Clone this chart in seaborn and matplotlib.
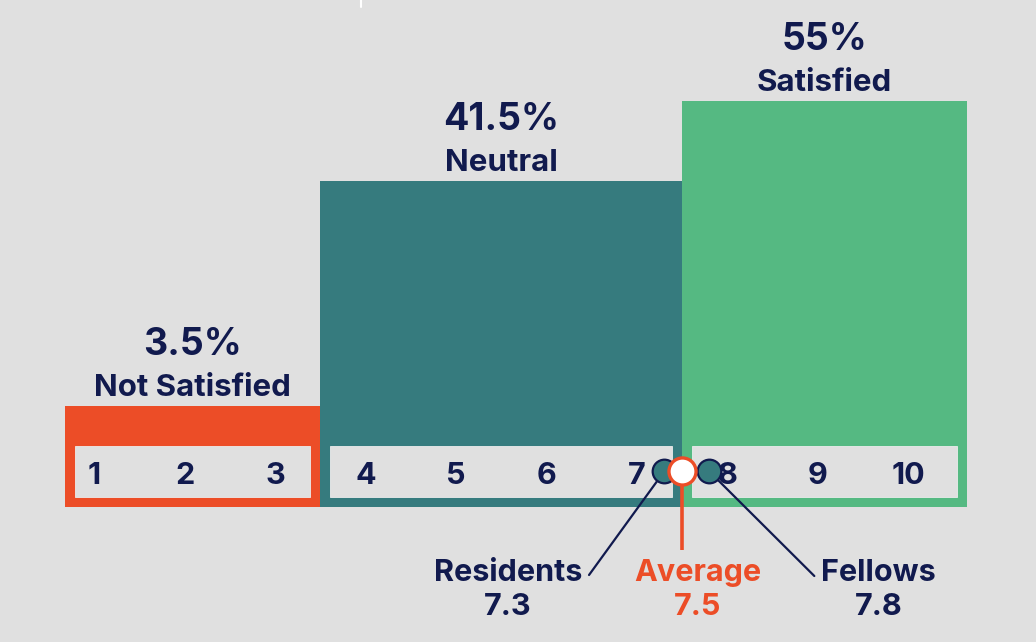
import matplotlib
matplotlib.use("Agg")
import matplotlib.pyplot as plt
import seaborn as sns
import pandas as pd

# ---------------- data ----------------
categories = ["Not Satisfied", "Neutral", "Satisfied"]
percent = [3.5, 41.5, 55.0]
pct_labels = ["3.5%", "41.5%", "55%"]
band_edges = [0.68, 3.5, 7.5, 10.65]        # score-scale edges of the three bands
scores = [1, 2, 3, 4, 5, 6, 7, 8, 9, 10]
groups = ["Residents", "Average", "Fellows"]
group_scores = [7.3, 7.5, 7.8]

# ---------------- style ----------------
BG = "#e0e0e0"
ORANGE = "#ec4d27"
TEAL = "#367b7e"
GREEN = "#55b982"
NAVY = "#111a4e"
band_colors = [ORANGE, TEAL, GREEN]

sns.set_theme(style="white")
plt.rcParams["font.family"] = ["Inter", "DejaVu Sans"]

fig = plt.figure(figsize=(10.36, 6.42), dpi=100)
fig.patch.set_facecolor(BG)
ax = fig.add_axes([0, 0, 1, 1])
ax.set_facecolor(BG)

BASE = 13.5            # depth of the score strip below the 0 line
px_x = 1 / 90.5        # one pixel in x data units
px_y = 1 / 5.93        # one pixel in y data units

# bands
for i, cat in enumerate(categories):
    left = band_edges[i]
    width = band_edges[i + 1] - band_edges[i]
    ax.bar(left, percent[i] + BASE, width=width, bottom=-BASE, align="edge",
           color=band_colors[i], linewidth=0, zorder=1)
    # inner score strip
    inset_x = 10 * px_x
    ax.bar(left + inset_x, 51 * px_y, width=width - 2 * inset_x,
           bottom=-BASE + 10 * px_y, align="edge", color=BG,
           edgecolor="#ececec", linewidth=0.6, zorder=2)
    cx = left + width / 2
    ax.text(cx, percent[i] + 10 * px_y, cat, ha="center", va="baseline",
            fontsize=22.5, fontweight="bold", color=NAVY, zorder=5)
    ax.text(cx, percent[i] + 51 * px_y, pct_labels[i], ha="center", va="baseline",
            fontsize=27, fontweight="bold", color=NAVY, zorder=5)

# score numbers
strip_base = -BASE + 23 * px_y
for s in scores:
    ax.text(s, strip_base, str(s), ha="center", va="baseline",
            fontsize=22, fontweight="bold", color=NAVY, zorder=6)

# markers & leader lines
marker_y = -BASE + 35.5 * px_y
df = pd.DataFrame({"group": groups, "score": group_scores, "y": [marker_y] * 3})

label_x = {"Residents": 5.575, "Average": 7.67, "Fellows": 9.67}
line_end = {"Residents": (6.47, -24.97), "Fellows": (8.96, -25.14),
            "Average": (7.5, -20.75)}

for g, sc in zip(groups, group_scores):
    ex, ey = line_end[g]
    if g == "Average":
        ax.plot([sc, ex], [marker_y, ey], color=ORANGE, lw=2.6, zorder=3,
                solid_capstyle="butt")
    else:
        ax.plot([sc, ex], [marker_y, ey], color=NAVY, lw=1.6, zorder=3)

side = df[df["group"] != "Average"]
sns.scatterplot(data=side, x="score", y="y", s=290, color=TEAL,
                edgecolor=NAVY, linewidth=1.6, ax=ax, zorder=7, legend=False)
avg = df[df["group"] == "Average"]
sns.scatterplot(data=avg, x="score", y="y", s=380, color="white",
                edgecolor=ORANGE, linewidth=2.4, ax=ax, zorder=8, legend=False)

name_y = -25.98
val_y = -31.71
for g, sc in zip(groups, group_scores):
    col = ORANGE if g == "Average" else NAVY
    ax.text(label_x[g], name_y, g, ha="center", va="baseline",
            fontsize=22, fontweight="bold", color=col, zorder=6)
    ax.text(label_x[g], val_y, f"{sc:.1f}", ha="center", va="baseline",
            fontsize=22, fontweight="bold", color=col, zorder=6)

ax.set_xlabel("")
ax.set_ylabel("")
ax.set_xlim(-0.04, 11.41)
ax.set_ylim(-36.27, 72.0)
ax.axis("off")

# small white tick at the top edge
fig.add_artist(plt.Line2D([361 / 1036, 361 / 1036], [1, 1 - 7 / 642],
                          color="white", lw=1.5, transform=fig.transFigure))

fig.savefig("out.png", dpi=100, facecolor=BG)
